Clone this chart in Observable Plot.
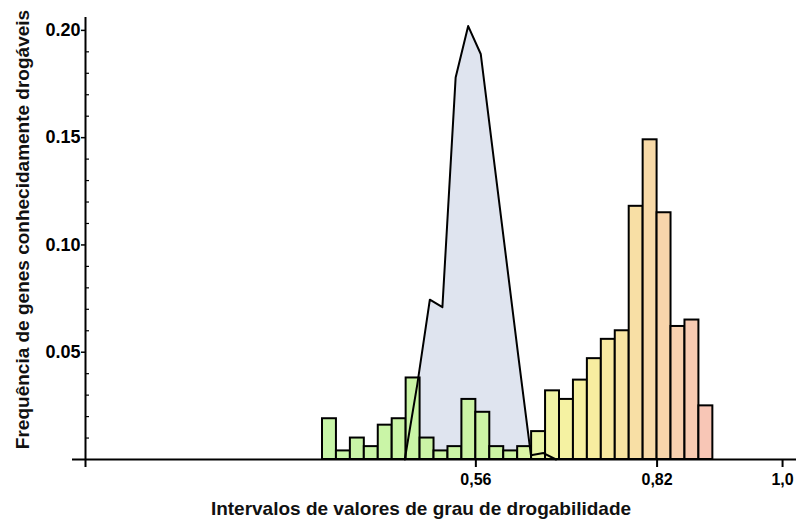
<!DOCTYPE html>
<html>
<head>
<meta charset="utf-8">
<script src="https://cdn.jsdelivr.net/npm/d3@7"></script>
<script src="https://cdn.jsdelivr.net/npm/@observablehq/plot@0.6"></script>
<style>
  html, body { margin: 0; padding: 0; background: #fff; }
  svg { display: block; }
</style>
</head>
<body>
<div id="chart"></div>
<script>
// Histogram bins (left edge, width 0.02) and frequencies
const binStarts = [0.34, 0.36, 0.38, 0.40, 0.42, 0.44, 0.46, 0.48, 0.50, 0.52, 0.54, 0.56, 0.58, 0.60,
                   0.62, 0.64, 0.66, 0.68, 0.70, 0.72, 0.74, 0.76, 0.78, 0.80, 0.82, 0.84, 0.86, 0.88];
const binWidth = 0.02;
const freqs = [0.019, 0.004, 0.010, 0.006, 0.016, 0.019, 0.038, 0.010, 0.004, 0.006, 0.028, 0.022, 0.006, 0.004,
               0.006, 0.013, 0.032, 0.028, 0.037, 0.047, 0.056, 0.060, 0.118, 0.149, 0.115, 0.062, 0.065, 0.025];

// Comparison distribution (filled polygon)
const curveX = [0.458, 0.476, 0.494, 0.512, 0.531, 0.549, 0.567, 0.585, 0.603, 0.621, 0.639, 0.657, 0.675];
const curveY = [0, 0.035, 0.0745, 0.071, 0.178, 0.202, 0.189, 0.142, 0.095, 0.048, 0.002, 0.003, 0];

// Axis ticks and texts
const xTicks = [0.56, 0.82, 1.0];
const xTickLabels = ["0,56", "0,82", "1,0"];
const yTicks = [0.05, 0.10, 0.15, 0.20];
const yMinorTicks = [0.01, 0.02, 0.03, 0.04, 0.06, 0.07, 0.08, 0.09, 0.11, 0.12, 0.13, 0.14, 0.16, 0.17, 0.18, 0.19];
const xTitle = "Intervalos de valores de grau de drogabilidade";
const yTitle = "Frequência de genes conhecidamente drogáveis";

const bars = binStarts.map((b, i) => ({x1: b, x2: b + binWidth, y: freqs[i]}));
const curve = curveX.map((x, i) => ({x, y: curveY[i]}));

const colorOf = d3.scaleLinear()
  .domain([0.34, 0.62, 0.64, 0.68, 0.74, 0.80, 0.88])
  .range(["#c8f5a8", "#cdf4a4", "#e6f5a8", "#f4f3a2", "#f8eca0", "#f8dca6", "#f8c8b4"])
  .interpolate(d3.interpolateRgb);

const font = "'Liberation Sans', Arial, sans-serif";

const chart = Plot.plot({
  width: 796,
  height: 520,
  marginLeft: 85,
  marginRight: 0,
  marginTop: 17,
  marginBottom: 61,
  style: {fontFamily: font, background: "#fff", color: "#000"},
  x: {domain: [0, 1.02]},
  y: {domain: [0, 0.206]},
  marks: [
    Plot.areaY(curve, {x: "x", y: "y", fill: "#dfe4ef"}),
    Plot.rectY(bars, {x1: "x1", x2: "x2", y: "y", fill: d => colorOf(d.x1 + binWidth / 2), stroke: "#000", strokeWidth: 2}),
    Plot.lineY(curve, {x: "x", y: "y", stroke: "#000", strokeWidth: 2}),
    Plot.ruleY([0], {stroke: "#000", strokeWidth: 2, insetLeft: -13}),
    Plot.ruleX([0], {stroke: "#000", strokeWidth: 2, insetBottom: -8}),
    Plot.ruleY(yMinorTicks, {x1: 0, x2: 0, insetRight: -4, stroke: "#000", strokeWidth: 1.2}),
    Plot.axisY({ticks: yTicks, tickSize: 4, tickPadding: 1, tickFormat: d => d.toFixed(2), label: null,
                fontSize: 18, fontWeight: "bold", strokeWidth: 1.5}),
    Plot.axisX({ticks: xTicks, tickSize: 8, tickPadding: 6, tickFormat: d => xTickLabels[xTicks.indexOf(d)], label: null,
                fontSize: 16, fontWeight: "bold", strokeWidth: 2}),
    Plot.text([xTitle], {frameAnchor: "bottom", textAnchor: "middle", lineAnchor: "middle", dx: -20, dy: 49,
                         fontSize: 19, fontWeight: "bold", fill: "#111"}),
    Plot.text([yTitle], {frameAnchor: "left", textAnchor: "middle", lineAnchor: "middle", dx: -63, dy: -9, rotate: -90,
                         fontSize: 19, fontWeight: "bold", fill: "#111"})
  ]
});
document.getElementById("chart").appendChild(chart);
</script>
</body>
</html>
